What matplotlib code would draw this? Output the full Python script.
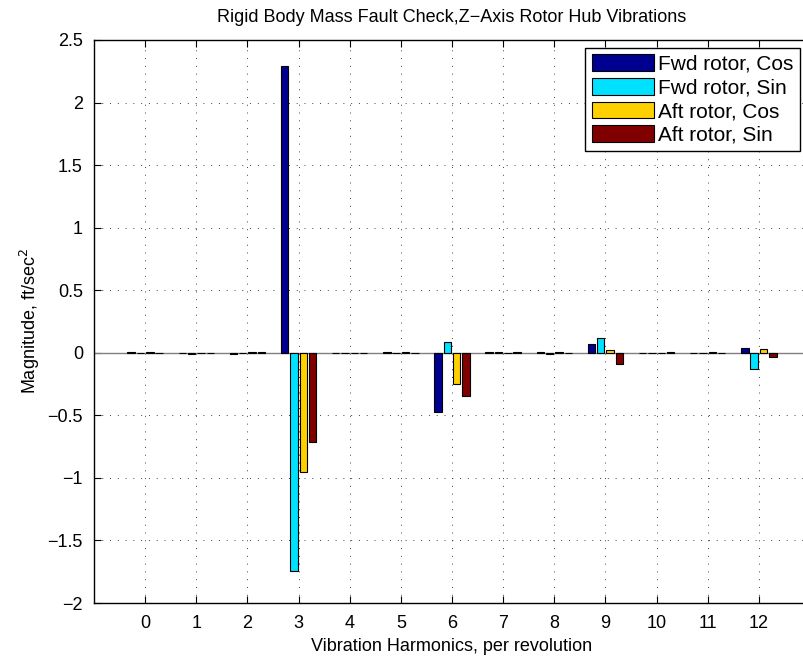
import numpy as np
import matplotlib
matplotlib.use("Agg")
import matplotlib.pyplot as plt

plt.rcParams['font.family'] = ['Liberation Sans', 'DejaVu Sans']

harmonics = list(range(13))
series_names = ["Fwd rotor, Cos", "Fwd rotor, Sin", "Aft rotor, Cos", "Aft rotor, Sin"]
fwd_cos = [0.004, -0.004, -0.008, 2.29, -0.004, 0.004, -0.476, 0.008, 0.003, 0.069, -0.004, -0.003, 0.040]
fwd_sin = [-0.004, -0.010, -0.004, -1.744, -0.003, -0.003, 0.083, 0.004, -0.010, 0.120, -0.004, -0.004, -0.133]
aft_cos = [0.003, -0.004, 0.006, -0.955, -0.003, 0.003, -0.250, -0.003, 0.003, 0.020, -0.003, 0.003, 0.030]
aft_sin = [-0.004, -0.004, 0.008, -0.715, -0.003, -0.003, -0.346, 0.003, -0.004, -0.093, 0.003, -0.003, -0.037]
colors = ["#000090", "#00E0FF", "#FFD000", "#800000"]

values = [fwd_cos, fwd_sin, aft_cos, aft_sin]

fig = plt.figure(figsize=(8.04, 6.62), dpi=100)
# axes run past the right edge like the cropped original
ax = fig.add_axes([94 / 804, 1 - 603 / 662, 716 / 804, 563 / 662])

n = len(values)
group = min(0.8, n / (n + 1.5))
step = group / n
x = np.array(harmonics, dtype=float)
for i, (vals, c, name) in enumerate(zip(values, colors, series_names)):
    offs = -group / 2 + (2 * i + 1) * step / 2
    ax.bar(x + offs, vals, width=step * 0.8, color=c, edgecolor="black",
           linewidth=0.8, label=name, zorder=3)

ax.axhline(0, color="#808080", linewidth=1, zorder=2)
ax.set_xlim(-1, 13)
ax.set_ylim(-2, 2.5)
ax.set_xticks(harmonics)
ax.set_yticks(np.arange(-2, 2.51, 0.5))
ax.set_yticklabels(["\u22122", "\u22121.5", "\u22121", "\u22120.5", "0", "0.5", "1", "1.5", "2", "2.5"])
ax.grid(True, linestyle=(0, (1, 7)), color="#404040", linewidth=0.7, zorder=1)
ax.tick_params(direction="in", top=True, right=True, labelsize=13, length=5, pad=8)
ax.tick_params(axis="x", pad=9)
for s in ax.spines.values():
    s.set_linewidth(1)

ax.set_title("Rigid Body Mass Fault Check,Z\u2212Axis Rotor Hub Vibrations", fontsize=13, pad=13)
ax.set_xlabel("Vibration Harmonics, per revolution", fontsize=13, labelpad=4)
ax.set_ylabel("Magnitude, ft/sec$^2$", fontsize=13, labelpad=4)

leg = ax.legend(loc="upper right", bbox_to_anchor=((800 - 94) / 716, (603 - 48) / 563), fontsize=15,
                handlelength=3.0, handleheight=0.85, handletextpad=0.2, labelspacing=0.2,
                borderpad=0.3, borderaxespad=0, fancybox=False, framealpha=1, edgecolor="black")
leg.get_frame().set_linewidth(1)

fig.savefig("out.png", dpi=100)
